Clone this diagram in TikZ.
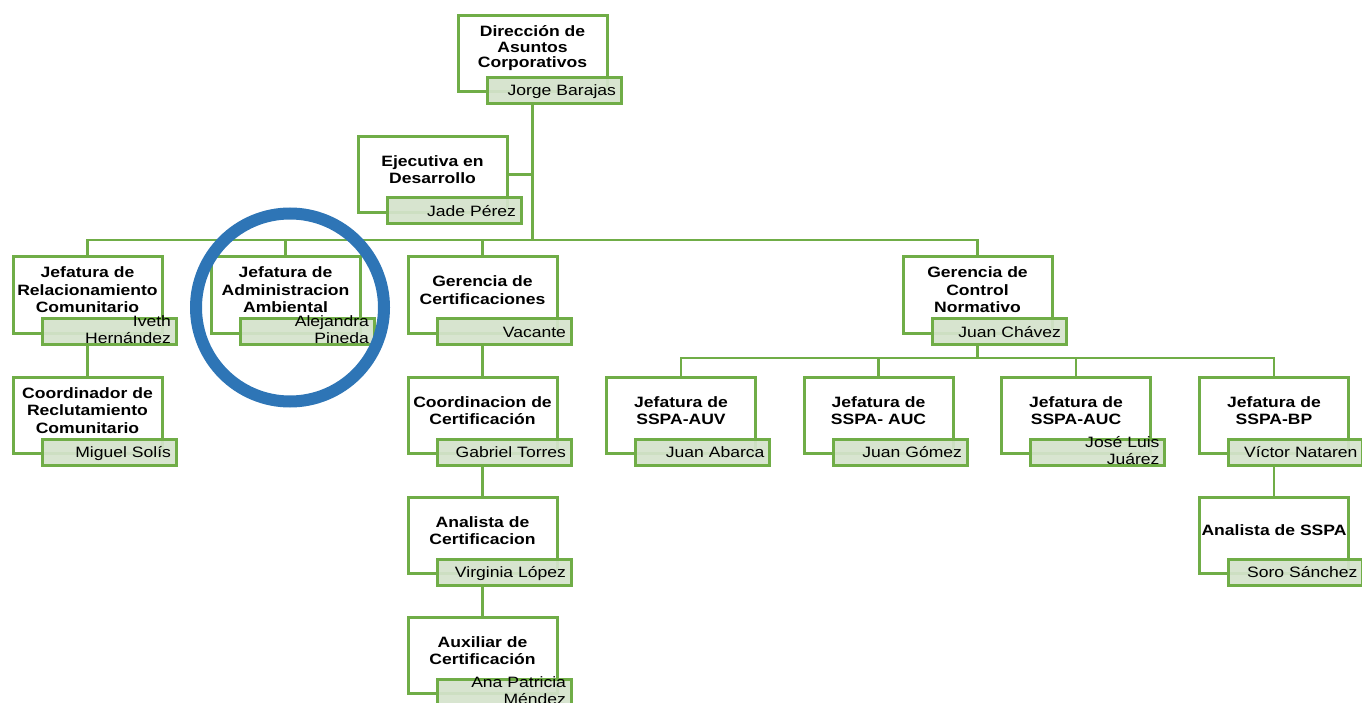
\documentclass[tikz,border=0pt]{standalone}
\usepackage{fontspec}
\setmainfont{Liberation Sans}[FakeStretch=1.17]
\usepackage{tikz}
\usetikzlibrary{positioning,calc}
\definecolor{orggreen}{RGB}{112,173,71}
\definecolor{namefill}{RGB}{213,227,204}
\definecolor{markblue}{RGB}{46,117,182}

\begin{document}
\begin{tikzpicture}[x=1pt,y=-1pt,
	unit/.style={rectangle,draw=orggreen,fill=white,line width=3pt,minimum width=149pt,minimum height=76pt,inner sep=0pt},
	title/.style={align=center,inner sep=0pt,font=\bfseries\fontsize{15}{17.5}\selectfont},
	person/.style={rectangle,draw=orggreen,fill=namefill,fill opacity=0.93,text opacity=1,line width=3pt,minimum width=134pt,minimum height=26pt,inner xsep=5pt,inner ysep=0pt,text width=124pt,align=right,text height=11pt,text depth=0pt,font=\fontsize{15}{17}\selectfont},
	person2/.style={person,text height=0pt,text depth=10pt},
	link/.style={draw=orggreen,line width=2.5pt}]
	\useasboundingbox (0,0) rectangle (1362,703);
	
	% top
	\node[unit] (dir) at (532.5,54) {};
	\node[title,font=\bfseries\fontsize{15}{15.5}\selectfont] (dirtitle) at ([yshift=5.5pt]dir.center) {Dirección de\\Asuntos\\Corporativos};
	\node[person] (dirname) at ([xshift=21.5pt,yshift=3pt]dir.south) {Jorge Barajas};
	
	\node[unit] (ejec) at (432.5,174.5) {};
	\node[title] (ejectitle) at ([yshift=5pt]ejec.center) {Ejecutiva en\\Desarrollo};
	\node[person] (ejecname) at ([xshift=21.5pt,yshift=3pt]ejec.south) {Jade Pérez};
	
	% second level
	\node[unit] (rel) at (87.5,295) {};
	\node[title] (reltitle) at ([yshift=5pt]rel.center) {Jefatura de\\Relacionamiento\\Comunitario};
	\node[person2] (relname) at ([xshift=21.5pt,yshift=3pt]rel.south) {Iveth\\Hernández};
	
	\node[unit] (adm) at (285.5,295) {};
	\node[title] (admtitle) at ([yshift=5pt]adm.center) {Jefatura de\\Administracion\\Ambiental};
	\node[person2] (admname) at ([xshift=21.5pt,yshift=3pt]adm.south) {Alejandra\\Pineda};
	
	\node[unit] (gcert) at (482.5,295) {};
	\node[title] (gcerttitle) at ([yshift=5pt]gcert.center) {Gerencia de\\Certificaciones};
	\node[person] (gcertname) at ([xshift=21.5pt,yshift=3pt]gcert.south) {Vacante};
	
	\node[unit] (gcn) at (977.5,295) {};
	\node[title] (gcntitle) at ([yshift=5pt]gcn.center) {Gerencia de\\Control\\Normativo};
	\node[person] (gcnname) at ([xshift=21.5pt,yshift=3pt]gcn.south) {Juan Chávez};
	
	% under relacionamiento
	\node[unit] (crec) at (87.5,415.5) {};
	\node[title] (crectitle) at ([yshift=5pt]crec.center) {Coordinador de\\Reclutamiento\\Comunitario};
	\node[person] (crecname) at ([xshift=21.5pt,yshift=3pt]crec.south) {Miguel Solís};
	
	% under certificaciones
	\node[unit] (ccert) at (482.5,415.5) {};
	\node[title] (ccerttitle) at ([yshift=5pt]ccert.center) {Coordinacion de\\Certificación};
	\node[person] (ccertname) at ([xshift=21.5pt,yshift=3pt]ccert.south) {Gabriel Torres};
	
	\node[unit] (acert) at (482.5,535.5) {};
	\node[title] (acerttitle) at ([yshift=5pt]acert.center) {Analista de\\Certificacion};
	\node[person] (acertname) at ([xshift=21.5pt,yshift=3pt]acert.south) {Virginia López};
	
	\node[unit] (xcert) at (482.5,655.5) {};
	\node[title] (xcerttitle) at ([yshift=5pt]xcert.center) {Auxiliar de\\Certificación};
	\node[person2] (xcertname) at ([xshift=21.5pt,yshift=3pt]xcert.south) {Ana Patricia\\Méndez};
	
	% under control normativo
	\node[unit] (sspa1) at (681,415.5) {};
	\node[title] (sspa1title) at ([yshift=5pt]sspa1.center) {Jefatura de\\SSPA-AUV};
	\node[person] (sspa1name) at ([xshift=21.5pt,yshift=3pt]sspa1.south) {Juan Abarca};
	
	\node[unit] (sspa2) at (878.5,415.5) {};
	\node[title] (sspa2title) at ([yshift=5pt]sspa2.center) {Jefatura de\\SSPA- AUC};
	\node[person] (sspa2name) at ([xshift=21.5pt,yshift=3pt]sspa2.south) {Juan Gómez};
	
	\node[unit] (sspa3) at (1076,415.5) {};
	\node[title] (sspa3title) at ([yshift=5pt]sspa3.center) {Jefatura de\\SSPA-AUC};
	\node[person2] (sspa3name) at ([xshift=21.5pt,yshift=3pt]sspa3.south) {José Luis\\Juárez};
	
	\node[unit] (sspa4) at (1274,415.5) {};
	\node[title] (sspa4title) at ([yshift=5pt]sspa4.center) {Jefatura de\\SSPA-BP};
	\node[person] (sspa4name) at ([xshift=21.5pt,yshift=3pt]sspa4.south) {Víctor Nataren};
	
	\node[unit] (asspa) at (1274,535.5) {};
	\node[title] (asspatitle) at ([yshift=5pt]asspa.center) {Analista de SSPA};
	\node[person] (asspaname) at ([xshift=21.5pt,yshift=3pt]asspa.south) {Soro Sánchez};
	
	% connectors
	\coordinate (hub) at (532.5,240);
	\coordinate (hubcn) at (977.5,358);
	
	\draw[link] (dir.south |- dirname.south) -- (hub);
	\draw[link] (ejec.east) -- (ejec.east -| hub);
	\draw[link] (rel.north) |- (hub) -| (gcn.north);
	\draw[link] (adm.north) -- (adm.north |- hub);
	\draw[link] (gcert.north) -- (gcert.north |- hub);
	
	\draw[link] (rel.south |- relname.south) -- (crec.north);
	\draw[link] (gcert.south |- gcertname.south) -- (ccert.north);
	\draw[link] (ccert.south |- ccertname.south) -- (acert.north);
	\draw[link] (acert.south |- acertname.south) -- (xcert.north);
	
	\draw[link] (gcn.south |- gcnname.south) -- (hubcn);
	\draw[link] (sspa1.north) |- (hubcn) -| (sspa4.north);
	\draw[link] (sspa2.north) -- (sspa2.north |- hubcn);
	\draw[link] (sspa3.north) -- (sspa3.north |- hubcn);
	\draw[link] (sspa4.south |- sspa4name.south) -- (asspa.north);
	
	% highlight
	\node[circle,draw=markblue,line width=12pt,minimum size=188pt] (mark) at (290,307.5) {};
	
\end{tikzpicture}
\end{document}
